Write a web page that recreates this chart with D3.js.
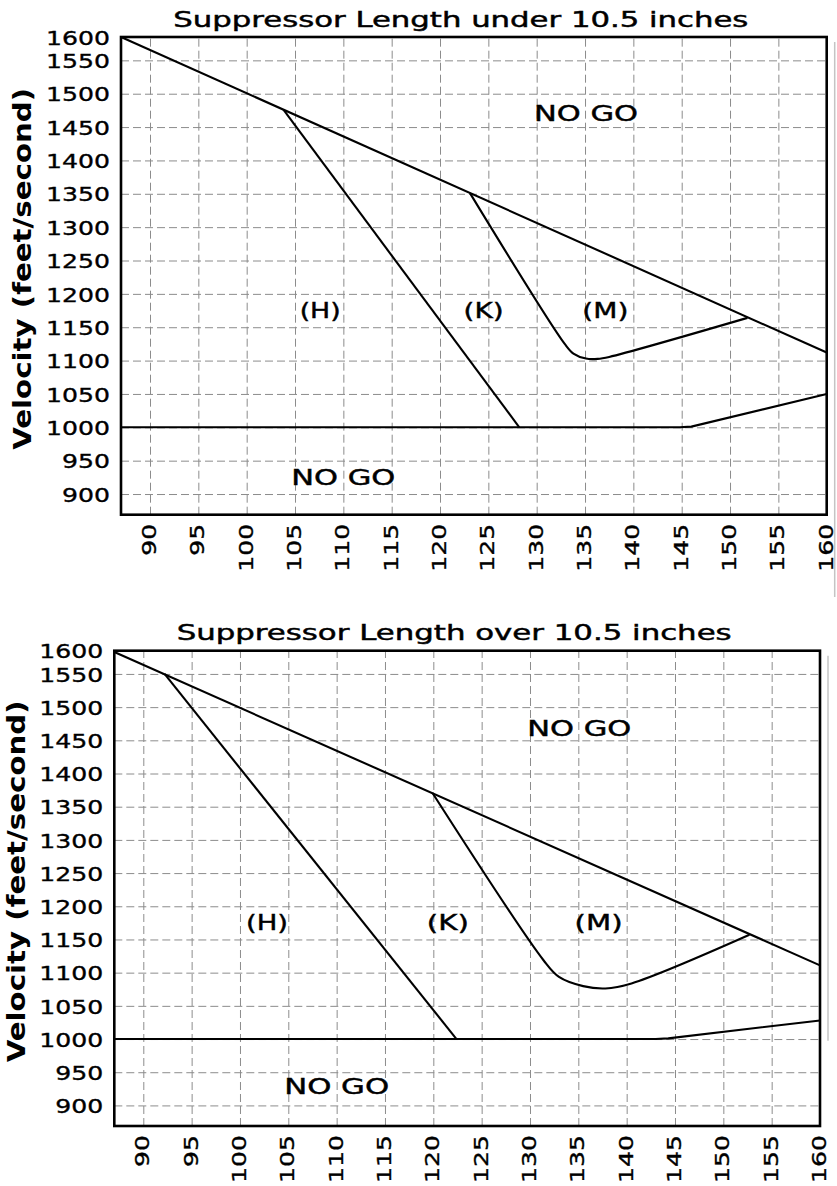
<!DOCTYPE html>
<html>
<head>
<meta charset="utf-8">
<title>Suppressor velocity charts</title>
<style>
  body { margin: 0; background: #fff; }
  .grid line { stroke: #8c8c8c; stroke-width: 1; stroke-dasharray: 8,4; }
  .curve { fill: none; stroke: #000; stroke-width: 2.1px; stroke-linejoin: round; }
  .frame { fill: none; stroke: #000; stroke-width: 2.6px; }
  .region { font-family: "DejaVu Sans", sans-serif; font-size: 22px; fill: #000; stroke: #000; stroke-width: 0.45px; }
  .tick text { stroke: #000; stroke-width: 0.35px; }
</style>
</head>
<body>
<svg id="chart" width="837" height="1186"></svg>
<script src="https://d3js.org/d3.v7.min.js"></script>
<script>
// ---- data ----
var xTickLabels = [90, 95, 100, 105, 110, 115, 120, 125, 130, 135, 140, 145, 150, 155, 160];
var yTickLabels = [900, 950, 1000, 1050, 1100, 1150, 1200, 1250, 1300, 1350, 1400, 1450, 1500, 1550, 1600];
var xDomain = [87, 160];
var yDomain = [869, 1585];
var yAxisTitle = "Velocity (feet/second)";

// suppressor under 10.5 inches
var underTitle = "Suppressor Length under 10.5 inches";
var underUpper = [[87, 1585], [160, 1112]];
var underH = [[103.8, 1476], [128.2, 1000]];
var underKM = [[123.1, 1351], [132.9, 1125], [133.8, 1110.5], [135.1, 1103], [136.3, 1102.5], [137.5, 1105.5], [151.8, 1164]];
var underFloor = [[87, 1000], [144.8, 1000], [146, 1001], [160, 1050]];
var underLabels = ["NO GO", "(H)", "(K)", "(M)", "NO GO"];
var underLabelAt = [[135.1, 1471], [107.6, 1175], [124.5, 1175], [137.1, 1175], [110, 925]];

// suppressor over 10.5 inches
var overTitle = "Suppressor Length over 10.5 inches";
var overUpper = [[87, 1583], [160, 1111]];
var overH = [[92.2, 1550], [122.4, 1000]];
var overKM = [[119.9, 1371], [131.4, 1118.7], [133.0, 1093.6], [135.5, 1079.7], [137.8, 1076.2], [140.5, 1083.7], [152.7, 1157]];
var overFloor = [[87, 1000], [143, 1000], [144.3, 1001], [160, 1028]];
var overLabels = ["NO GO", "(H)", "(K)", "(M)", "NO GO"];
var overLabelAt = [[135.1, 1469], [102.8, 1176], [121.5, 1176], [137.1, 1176], [110, 928.5]];

// ---- layout ----
var svg = d3.select("#chart");
svg.append("rect").attr("width", 837).attr("height", 1186).attr("fill", "#fff");

var panels = [
  {title: underTitle, titleW: 575, titleY: 26.5, left: 121, right: 826.7, top: 37, bottom: 514.7,
   yTitleX: 22.5, edgeLen: 560, straight: [underUpper, underH, underFloor], bend: underKM,
   labels: underLabels, labelAt: underLabelAt, labelW: [104, 41, 40, 46, 104]},
  {title: overTitle, titleW: 555, titleY: 640, left: 114.3, right: 820, top: 650.7, bottom: 1126,
   yTitleX: 16, edgeLen: 390, straight: [overUpper, overH, overFloor], bend: overKM,
   labels: overLabels, labelAt: overLabelAt, labelW: [104, 42, 42, 48, 105]}
];

var font = "DejaVu Sans, sans-serif";

panels.forEach(function(p) {
  var w = p.right - p.left, h = p.bottom - p.top;
  var x = d3.scaleLinear().domain(xDomain).range([p.left, p.right]);
  var y = d3.scaleLinear().domain(yDomain).range([p.bottom, p.top]).clamp(true);
  var g = svg.append("g");

  // dashed grid
  g.append("g").attr("class", "grid")
      .attr("transform", "translate(0," + p.bottom + ")")
      .call(d3.axisBottom(x).tickValues(xTickLabels).tickSize(-h).tickFormat(""))
      .call(function(a) { a.select(".domain").remove(); });
  g.append("g").attr("class", "grid")
      .attr("transform", "translate(" + p.left + ",0)")
      .call(d3.axisLeft(y).tickValues(yTickLabels).tickSize(-w).tickFormat(""))
      .call(function(a) { a.select(".domain").remove(); });

  // boundary lines
  var line = d3.line().x(function(d) { return x(d[0]); }).y(function(d) { return y(d[1]); });
  g.selectAll("path.straight").data(p.straight).enter()
    .append("path").attr("class", "curve straight").attr("d", line);
  g.append("path").attr("class", "curve")
      .attr("d", line.curve(d3.curveCatmullRom.alpha(0.5))(p.bend));

  g.append("rect").attr("class", "frame")
      .attr("x", p.left).attr("y", p.top).attr("width", w).attr("height", h);

  // x tick labels, rotated
  g.append("g")
      .attr("transform", "translate(0," + p.bottom + ")")
      .call(d3.axisBottom(x).tickValues(xTickLabels).tickSize(0).tickFormat(d3.format("d")))
      .call(function(a) { a.select(".domain").remove(); })
      .attr("font-family", font).attr("font-size", 20)
    .selectAll("text")
      .attr("transform", "rotate(-90)")
      .attr("text-anchor", "end")
      .attr("x", -9).attr("y", 0).attr("dy", "0.27em")
      .attr("textLength", function(d) { return String(d).length * 16; })
      .attr("lengthAdjust", "spacingAndGlyphs");

  // y tick labels
  g.append("g")
      .attr("transform", "translate(" + p.left + ",0)")
      .call(d3.axisLeft(y).tickValues(yTickLabels).tickSize(0).tickPadding(11).tickFormat(d3.format("d")))
      .call(function(a) { a.select(".domain").remove(); })
      .attr("font-family", font).attr("font-size", 20)
    .selectAll("text")
      .attr("dy", "0.36em")
      .attr("textLength", function(d) { return String(d).length * 16; })
      .attr("lengthAdjust", "spacingAndGlyphs");

  // title
  g.append("text")
      .attr("x", (p.left + p.right) / 2 - 13).attr("y", p.titleY)
      .attr("text-anchor", "middle")
      .attr("font-family", font).attr("font-size", 21)
      .attr("stroke", "#000").attr("stroke-width", 0.45)
      .attr("textLength", p.titleW).attr("lengthAdjust", "spacingAndGlyphs")
      .text(p.title);

  // y axis title
  g.append("text")
      .attr("transform", "translate(" + p.yTitleX + "," + ((p.top + p.bottom) / 2 - 7) + ") rotate(-90)")
      .attr("text-anchor", "middle").attr("dy", "0.36em")
      .attr("font-family", font).attr("font-size", 24).attr("font-weight", "bold")
      .attr("textLength", 362).attr("lengthAdjust", "spacingAndGlyphs")
      .text(yAxisTitle);

  // region labels
  g.selectAll("text.region").data(p.labels).enter()
    .append("text").attr("class", "region")
      .attr("x", function(d, i) { return x(p.labelAt[i][0]); })
      .attr("y", function(d, i) { return y(p.labelAt[i][1]); })
      .attr("text-anchor", "middle").attr("dy", "0.36em")
      .attr("textLength", function(d, i) { return p.labelW[i]; })
      .attr("lengthAdjust", "spacingAndGlyphs")
      .text(function(d) { return d; });

  // faint edge line at the right of the picture
  g.append("line")
      .attr("x1", p.right + 8).attr("x2", p.right + 8)
      .attr("y1", p.top + 5).attr("y2", p.top + p.edgeLen)
      .attr("stroke", "#c4c4c4").attr("stroke-width", 1.5);
});
</script>
</body>
</html>
